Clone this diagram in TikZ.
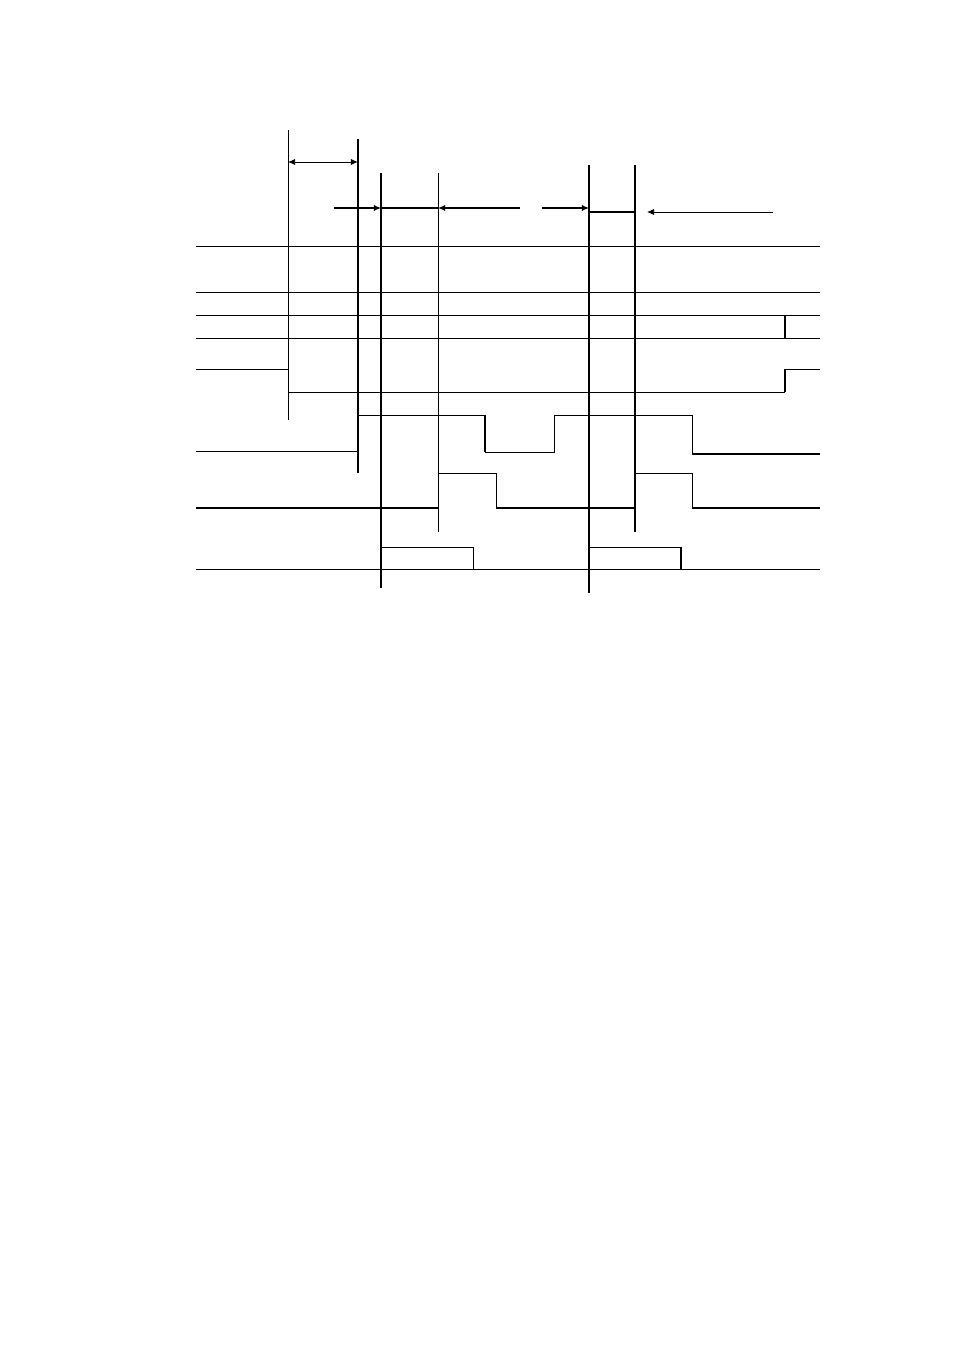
\documentclass[tikz,border=0pt]{standalone}
\usepackage{tikz}
\usetikzlibrary{arrows.meta,calc}
\tikzset{
  thinline/.style={line width=0.6pt},
  thickline/.style={line width=1.2pt},
  tip/.style={-{Latex[length=4.5pt,width=4pt]}}
}

\begin{document}
\begin{tikzpicture}[x=0.624pt,y=-0.624pt]
      \useasboundingbox (0,0) rectangle (954,1351);

      % vertical markers
      \draw[thinline] (288,130) -- (288,420);
      \draw[thickline] (358,139) -- (358,473);
      \draw[thickline] (381,173) -- (381,588);
      \draw[thinline] (438,173) -- (438,532);
      \draw[thickline] (589,165) -- (589,593);
      \draw[thickline] (635,165) -- (635,532);

      % intervals
      \coordinate (a1) at (288,162);
      \coordinate (a2) at (358,162);
      \draw[thinline,{Latex[length=4.5pt,width=4pt]}-{Latex[length=4.5pt,width=4pt]}] (a1) -- (a2);

      \coordinate (b0) at (334,208);
      \coordinate (b1) at (381,208);
      \coordinate (b2) at (438,208);
      \coordinate (b3) at (520,208);
      \coordinate (b4) at (542,208);
      \coordinate (b5) at (589,208);
      \draw[thickline,tip] (b0) -- (b1);
      \draw[thickline] (b1) -- (b2);
      \draw[thickline,tip] (b3) -- (b2);
      \draw[thickline,tip] (b4) -- (b5);

      \coordinate (c1) at (589,212);
      \coordinate (c2) at (635,212);
      \coordinate (c3) at (647,212);
      \coordinate (c4) at (773,212);
      \draw[thickline] (c1) -- (c2);
      \draw[thinline,tip] (c4) -- (c3);

      % signal lines
      \draw[thinline] (196,246) -- (820,246);
      \draw[thinline] (196,292) -- (820,292);
      \draw[thinline] (196,315) -- (820,315);
      \draw[thickline] (785,315) -- (785,338);
      \draw[thinline] (196,338) -- (820,338);

      \draw[thinline] (196,369) -- (288,369) -- (288,392) -- (785,392);
      \draw[thickline] (785,392) -- (785,369);
      \draw[thinline] (785,369) -- (820,369);

      \draw[thinline] (196,451) -- (358,451);
      \draw[thinline] (358,415) -- (485,415);
      \draw[thickline] (485,415) -- (485,452);
      \draw[thinline] (485,452) -- (554,452) -- (554,415) -- (692,415) -- (692,454);
      \draw[thickline] (692,454) -- (820,454);

      \draw[thickline] (196,508) -- (438,508);
      \draw[thinline] (438,508) -- (438,473) -- (496,473) -- (496,508);
      \draw[thickline] (496,508) -- (635,508);
      \draw[thinline] (635,473) -- (692,473) -- (692,508);
      \draw[thickline] (692,508) -- (820,508);

      \draw[thinline] (196,569) -- (820,569);
      \draw[thinline] (381,547) -- (473,547) -- (473,569);
      \draw[thinline] (589,547) -- (681,547);
      \draw[thickline] (681,547) -- (681,569);
\end{tikzpicture}
\end{document}
